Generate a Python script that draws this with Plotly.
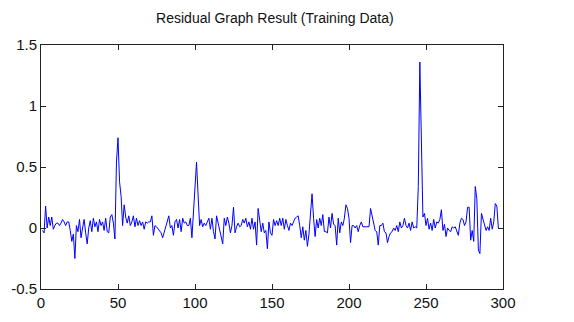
import plotly.graph_objects as go

# Residual values, sample index 1..297
residual = [
    -0.02, -0.04, 0.18, 0.00, 0.09, 0.02, 0.09, -0.01, 0.02, 0.04,
    0.04, 0.02, 0.04, 0.07, 0.05, 0.02, 0.05, 0.05, -0.02, -0.11,
    -0.05, -0.25, 0.02, -0.03, 0.07, -0.08, 0.00, 0.07, -0.04, -0.13,
    0.00, 0.06, -0.03, 0.08, 0.01, 0.05, -0.03, 0.07, 0.02, 0.05,
    -0.02, 0.08, -0.03, -0.04, 0.09, 0.11, 0.04, -0.09, 0.54, 0.74,
    0.38, 0.26, 0.02, 0.19, 0.09, 0.04, 0.10, 0.02, 0.05, 0.10,
    0.01, 0.08, 0.02, 0.06, 0.02, 0.05, -0.01, 0.05, 0.04, 0.05,
    0.05, 0.10, -0.06, 0.02, 0.01, -0.01, -0.03, -0.04, -0.08, -0.03,
    0.02, 0.05, 0.10, 0.00, 0.02, -0.06, 0.05, 0.07, 0.00, 0.07,
    -0.03, 0.08, 0.04, 0.05, 0.02, 0.02, 0.08, -0.08, 0.16, 0.41,
    0.54, 0.27, 0.02, 0.07, 0.01, 0.04, 0.02, 0.05, 0.08, -0.01,
    0.08, -0.03, -0.09, 0.10, 0.04, 0.00, -0.06, -0.13, 0.08, 0.02,
    0.09, 0.04, -0.04, 0.02, 0.17, -0.04, 0.01, 0.04, 0.01, 0.02,
    0.07, 0.04, 0.08, 0.01, 0.05, -0.01, 0.08, -0.01, 0.05, -0.14,
    0.16, 0.08, -0.03, 0.04, -0.04, -0.02, -0.17, 0.05, -0.04, -0.06,
    0.07, 0.02, 0.06, 0.02, 0.08, 0.02, 0.08, -0.01, 0.07, 0.02,
    -0.02, 0.04, 0.02, 0.05, 0.08, 0.09, 0.10, 0.02, -0.08, 0.01,
    -0.10, -0.02, -0.15, -0.05, 0.12, 0.28, 0.08, -0.07, 0.07, 0.00,
    0.08, 0.02, 0.11, -0.03, -0.03, -0.04, 0.09, 0.00, 0.12, 0.03,
    0.02, -0.14, 0.08, -0.04, 0.05, 0.02, 0.08, 0.19, 0.16, 0.08,
    -0.12, 0.02, 0.02, 0.00, 0.02, -0.03, 0.02, 0.05, 0.01, 0.01,
    0.01, 0.01, 0.01, 0.16, 0.09, 0.05, -0.02, -0.03, -0.14, 0.02,
    0.02, 0.04, -0.03, -0.04, -0.12, -0.07, -0.04, -0.03, 0.00, -0.02,
    0.02, -0.03, 0.05, 0.00, 0.02, 0.08, 0.02, 0.00, 0.04, -0.02,
    0.05, 0.00, 0.01, 0.00, 0.34, 1.36, 0.72, 0.09, 0.12, 0.02,
    0.08, -0.01, 0.04, -0.02, 0.07, 0.00, 0.05, 0.04, 0.07, 0.15,
    -0.02, 0.03, -0.07, 0.00, -0.02, -0.03, 0.01, 0.00, 0.01, -0.02,
    -0.06, 0.04, 0.08, 0.07, 0.02, 0.05, 0.17, 0.17, -0.10, -0.02,
    -0.11, 0.34, 0.24, -0.18, -0.21, 0.12, 0.08, 0.02, -0.02, 0.01,
    -0.02, 0.08, -0.01, 0.05, 0.20, 0.18, 0.00,
]
sample = list(range(1, len(residual) + 1))

x_ticks = [0, 50, 100, 150, 200, 250, 300]
y_ticks = [-0.5, 0, 0.5, 1, 1.5]
y_tick_labels = ["-0.5", "0", "0.5", "1", "1.5"]

fig = go.Figure()
fig.add_trace(go.Scatter(
    x=sample, y=residual, mode="lines",
    line=dict(color="#0000FF", width=1),
    showlegend=False,
))

axis_common = dict(
    showline=True, linecolor="#222222", linewidth=1, mirror="ticks",
    ticks="inside", ticklen=5, tickcolor="#222222", showgrid=False,
    zeroline=False, automargin=False,
    tickfont=dict(family="Liberation Sans, Arial", size=15, color="#111111"),
)

fig.update_layout(
    width=574, height=322,
    margin=dict(l=33, r=79, t=37, b=41),
    paper_bgcolor="white", plot_bgcolor="white",
    title=dict(text="Residual Graph Result (Training Data)", x=0.465, xanchor="center",
               y=0.97, yanchor="middle",
               font=dict(family="Liberation Sans, Arial", size=14, color="#111111")),
    xaxis=dict(range=[0, 300], tickvals=x_ticks, **axis_common),
    yaxis=dict(range=[-0.5, 1.5], tickvals=y_ticks, ticktext=y_tick_labels,
               ticklabelstandoff=0, **axis_common),
)

fig.write_html("out.html")
